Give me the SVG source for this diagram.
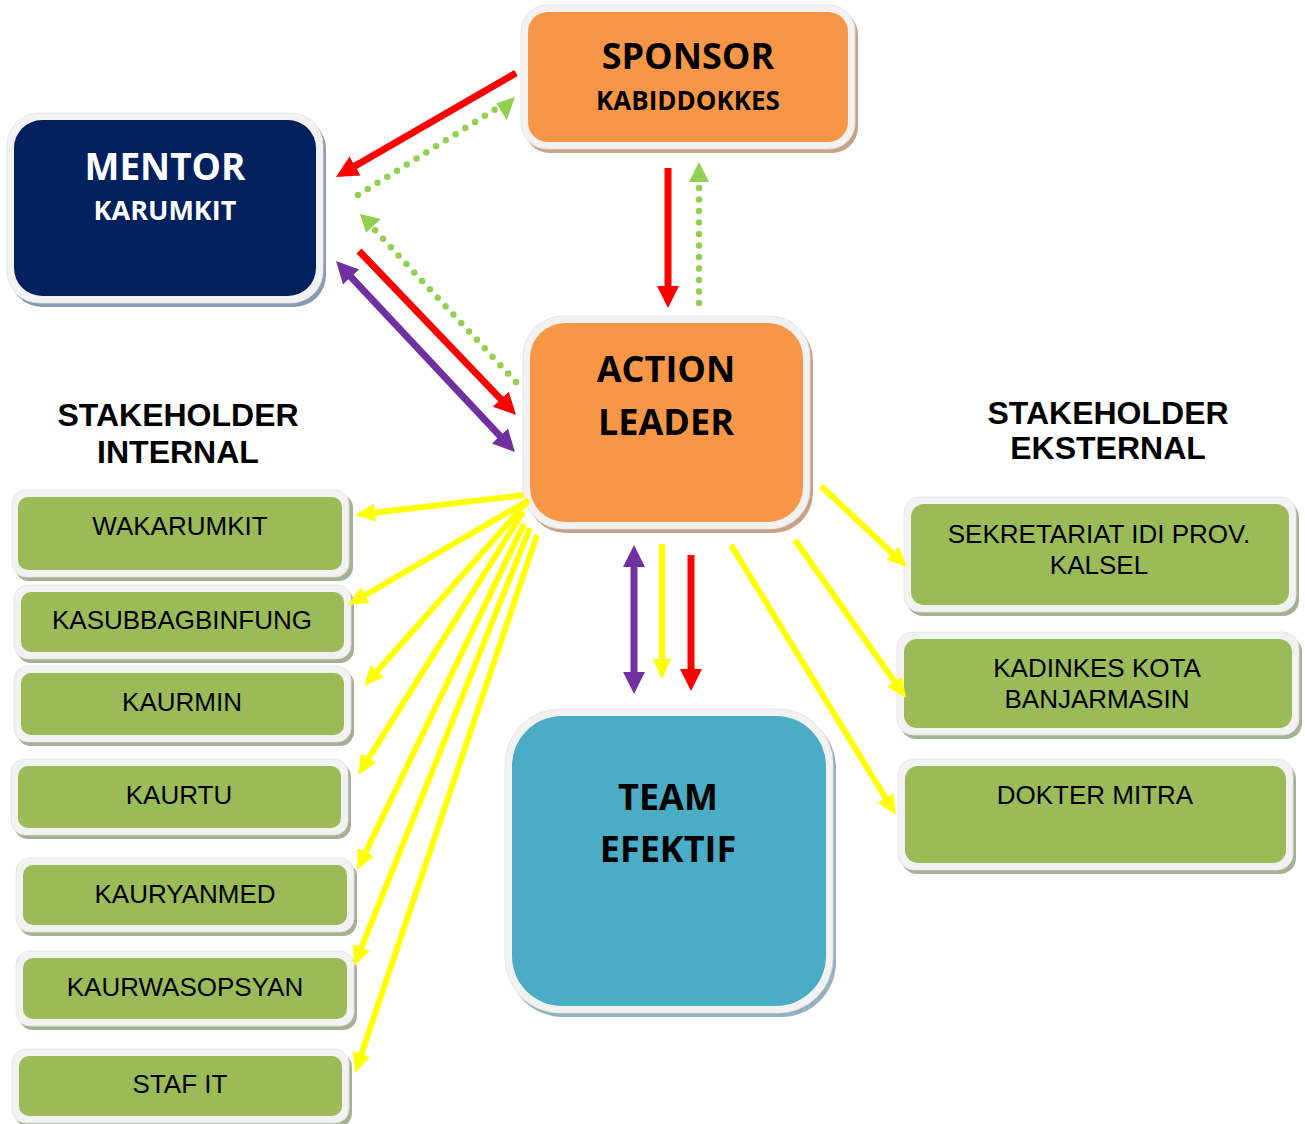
<svg xmlns="http://www.w3.org/2000/svg" width="1305" height="1124" viewBox="0 0 1305 1124">
<style>
.frame{fill:#f2f2f2;stroke:#e2e2e2;stroke-width:0.8}
.t1{font-family:"Open Sans","Liberation Sans",sans-serif;font-weight:bold;text-anchor:middle;fill:#000}
.tw{font-family:"Open Sans","Liberation Sans",sans-serif;font-weight:bold;text-anchor:middle;fill:#fff}
.tg{font-family:"Liberation Sans",Arial,sans-serif;font-size:26px;text-anchor:middle;fill:#000}
.th{font-family:"Liberation Sans",Arial,sans-serif;font-size:32px;font-weight:bold;text-anchor:middle;fill:#000}
.gs{fill:#a6b092}
.gf{fill:#9bbb59}
.ln{fill:none;stroke-linecap:butt}
.red{stroke:#ff0000;stroke-width:7}
.pur{stroke:#7030a0;stroke-width:7}
.yel{stroke:#ffff00;stroke-width:6}
.grn{stroke:#92d050;stroke-width:6.5;stroke-dasharray:0 11.5;stroke-linecap:round}
.gh{fill:#92d050}
</style>
<defs>
<marker id="mr" markerUnits="userSpaceOnUse" markerWidth="24" markerHeight="24" refX="1" refY="11" orient="auto"><path d="M0,0 L22,11 L0,22 z" fill="#ff0000"/></marker>
<marker id="mp" markerUnits="userSpaceOnUse" markerWidth="24" markerHeight="24" refX="1" refY="11" orient="auto-start-reverse"><path d="M0,0 L22,11 L0,22 z" fill="#7030a0"/></marker>
<marker id="my" markerUnits="userSpaceOnUse" markerWidth="22" markerHeight="22" refX="1" refY="9" orient="auto"><path d="M0,0 L20,9 L0,18 z" fill="#ffff00"/></marker>
</defs>

<g id="sponsor">
<rect x="524" y="9" width="334" height="144" rx="26" fill="#c9a184"/>
<rect class="frame" x="521" y="5" width="334" height="144" rx="26"/>
<rect x="528" y="12" width="320" height="130" rx="20" fill="#f79646"/>
<text class="t1" x="688" y="69" font-size="36">SPONSOR</text>
<text class="t1" x="688" y="110" font-size="26">KABIDDOKKES</text>
</g>

<g id="mentor">
<rect x="10" y="117" width="316" height="190" rx="32" fill="#8a9ab2"/>
<rect class="frame" x="7" y="113" width="316" height="190" rx="32"/>
<rect x="14" y="120" width="302" height="176" rx="28" fill="#00205e"/>
<text class="tw" x="165" y="180" font-size="37">MENTOR</text>
<text class="tw" x="165" y="220" font-size="27">KARUMKIT</text>
</g>

<g id="action-leader">
<rect x="526" y="320" width="287" height="213" rx="40" fill="#c9a184"/>
<rect class="frame" x="523" y="316" width="287" height="213" rx="40"/>
<rect x="530" y="323" width="273" height="199" rx="35" fill="#f79646"/>
<text class="t1" x="666" y="382" font-size="36">ACTION</text>
<text class="t1" x="666" y="435" font-size="36">LEADER</text>
</g>

<g id="team-efektif">
<rect x="508" y="713" width="328" height="304" rx="55" fill="#93b0bd"/>
<rect class="frame" x="505" y="709" width="328" height="304" rx="55"/>
<rect x="512" y="716" width="314" height="290" rx="50" fill="#4bacc6"/>
<text class="t1" x="668" y="810" font-size="36">TEAM</text>
<text class="t1" x="668" y="862" font-size="36">EFEKTIF</text>
</g>

<g id="heading-internal">
<text class="th" x="178" y="426">STAKEHOLDER</text>
<text class="th" x="178" y="463">INTERNAL</text>
</g>
<g id="heading-eksternal">
<text class="th" x="1108" y="424">STAKEHOLDER</text>
<text class="th" x="1108" y="459">EKSTERNAL</text>
</g>

<g id="wakarumkit">
<rect class="gs" x="15" y="494" width="338" height="87" rx="14"/>
<rect class="frame" x="12" y="490" width="337" height="87" rx="14"/>
<rect class="gf" x="18" y="497" width="324" height="73" rx="10"/>
<text class="tg" x="180" y="535">WAKARUMKIT</text>
</g>
<g id="kasubbagbinfung">
<rect class="gs" x="17" y="589" width="337" height="74" rx="14"/>
<rect class="frame" x="14" y="585" width="337" height="74" rx="14"/>
<rect class="gf" x="21" y="592" width="323" height="60" rx="10"/>
<text class="tg" x="182" y="629">KASUBBAGBINFUNG</text>
</g>
<g id="kaurmin">
<rect class="gs" x="17" y="670" width="337" height="76" rx="14"/>
<rect class="frame" x="14" y="666" width="337" height="76" rx="14"/>
<rect class="gf" x="21" y="673" width="323" height="62" rx="10"/>
<text class="tg" x="182" y="711">KAURMIN</text>
</g>
<g id="kaurtu">
<rect class="gs" x="14" y="763" width="337" height="76" rx="14"/>
<rect class="frame" x="11" y="759" width="337" height="76" rx="14"/>
<rect class="gf" x="18" y="766" width="323" height="62" rx="10"/>
<text class="tg" x="179" y="804">KAURTU</text>
</g>
<g id="kauryanmed">
<rect class="gs" x="19" y="862" width="338" height="74" rx="14"/>
<rect class="frame" x="16" y="858" width="338" height="74" rx="14"/>
<rect class="gf" x="23" y="865" width="324" height="60" rx="10"/>
<text class="tg" x="185" y="903">KAURYANMED</text>
</g>
<g id="kaurwasopsyan">
<rect class="gs" x="19" y="955" width="338" height="75" rx="14"/>
<rect class="frame" x="16" y="951" width="338" height="75" rx="14"/>
<rect class="gf" x="23" y="958" width="324" height="61" rx="10"/>
<text class="tg" x="185" y="996">KAURWASOPSYAN</text>
</g>
<g id="staf-it">
<rect class="gs" x="15" y="1053" width="337" height="74" rx="14"/>
<rect class="frame" x="12" y="1049" width="337" height="74" rx="14"/>
<rect class="gf" x="19" y="1056" width="323" height="60" rx="10"/>
<text class="tg" x="180" y="1093">STAF IT</text>
</g>

<g id="sekretariat-idi">
<rect class="gs" x="907" y="501" width="392" height="115" rx="16"/>
<rect class="frame" x="904" y="497" width="392" height="115" rx="16"/>
<rect class="gf" x="911" y="504" width="378" height="101" rx="13"/>
<text class="tg" x="1099" y="543">SEKRETARIAT IDI PROV.</text>
<text class="tg" x="1099" y="574">KALSEL</text>
</g>
<g id="kadinkes">
<rect class="gs" x="900" y="636" width="402" height="103" rx="16"/>
<rect class="frame" x="897" y="632" width="402" height="103" rx="16"/>
<rect class="gf" x="904" y="639" width="388" height="89" rx="13"/>
<text class="tg" x="1097" y="677">KADINKES KOTA</text>
<text class="tg" x="1097" y="708">BANJARMASIN</text>
</g>
<g id="dokter-mitra">
<rect class="gs" x="901" y="763" width="395" height="111" rx="16"/>
<rect class="frame" x="898" y="759" width="395" height="111" rx="16"/>
<rect class="gf" x="905" y="766" width="381" height="97" rx="13"/>
<text class="tg" x="1095" y="804">DOKTER MITRA</text>
</g>

<g id="connectors">
<line class="ln red" x1="516" y1="73" x2="354.2" y2="166.5" marker-end="url(#mr)"/>
<line class="ln grn" x1="358" y1="195" x2="498.9" y2="107.1"/>
<line class="ln grn" x1="516" y1="382" x2="372.9" y2="227.9"/>
<line class="ln red" x1="359" y1="251" x2="501.5" y2="399.8" marker-end="url(#mr)"/>
<line class="ln pur" x1="350.4" y1="276.3" x2="500.6" y2="436.7" marker-start="url(#mp)" marker-end="url(#mp)"/>
<line class="ln red" x1="668" y1="168" x2="668" y2="287" marker-end="url(#mr)"/>
<line class="ln grn" x1="699" y1="303" x2="699" y2="181"/>
<line class="ln pur" x1="634" y1="566" x2="634" y2="673" marker-start="url(#mp)" marker-end="url(#mp)"/>
<line class="ln yel" x1="662" y1="544" x2="662" y2="660" marker-end="url(#my)"/>
<line class="ln red" x1="691" y1="555" x2="691" y2="670" marker-end="url(#mr)"/>
<line class="ln yel" x1="524" y1="495" x2="373.9" y2="512.8" marker-end="url(#my)"/>
<line class="ln yel" x1="529" y1="500" x2="364.4" y2="595.5" marker-end="url(#my)"/>
<line class="ln yel" x1="527" y1="502" x2="376.6" y2="671.8" marker-end="url(#my)"/>
<line class="ln yel" x1="523" y1="512" x2="368.1" y2="758.9" marker-end="url(#my)"/>
<line class="ln yel" x1="524" y1="524" x2="365.3" y2="852.9" marker-end="url(#my)"/>
<line class="ln yel" x1="530" y1="528" x2="361.1" y2="948.4" marker-end="url(#my)"/>
<line class="ln yel" x1="537" y1="535" x2="361.1" y2="1055" marker-end="url(#my)"/>
<line class="ln yel" x1="821" y1="486" x2="893.2" y2="554" marker-end="url(#my)"/>
<line class="ln yel" x1="795" y1="540" x2="895.1" y2="682.5" marker-end="url(#my)"/>
<line class="ln yel" x1="731" y1="545" x2="886.1" y2="798.8" marker-end="url(#my)"/>
<polygon class="gh" points="515,97 496.4,103.3 506.8,120.3"/>
<polygon class="gh" points="360,214 366.1,232.7 380.8,219.1"/>
<polygon class="gh" points="699,162 689,182 709,182"/>
</g>
</svg>
